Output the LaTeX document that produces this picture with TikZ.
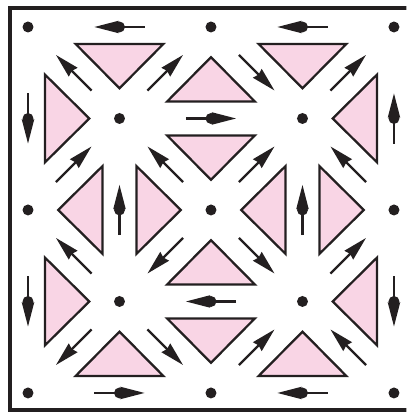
\documentclass[tikz,border=0pt]{standalone}
\usetikzlibrary{arrows.meta}
\definecolor{tripink}{RGB}{249,213,229}
\definecolor{ink}{RGB}{35,31,32}
\begin{document}
\begin{tikzpicture}[scale=2, >={Stealth[length=15pt,width=7.5pt,inset=1pt]},
    tri/.style={fill=tripink, draw=ink, line width=1.4pt},
    arr/.style={->, draw=ink, fill=ink, line width=1.4pt}]
    % Khung
    \useasboundingbox (-0.306,-0.208) rectangle (4.136,4.295);
    \clip (-0.306,-0.208) rectangle (4.136,4.295);
    \draw[ink, line width=2.5pt] (-0.2,-0.19) rectangle (4.2,4.21);
    % Các tam giác (tâm x/y, hướng)
    \foreach \x/\y/\a in {1/3/90, 1/3/180, 3/3/90, 3/3/0, 1/1/180, 1/1/270, 3/1/0, 3/1/270,
        2/2/0, 2/2/90, 2/2/180, 2/2/270, 2/4/270, 0/2/0, 4/2/180, 2/0/90}
        \draw[tri, shift={(\x,\y)}, rotate=\a] (0.33,0) -- (0.815,0.48) -- (0.815,-0.48) -- cycle;
    % Mũi tên (tâm x/y, hướng): ngang, dọc rồi chéo
    \foreach \x/\y/\a in {1/4/180, 3/4/180, 0/3/270, 0/1/270, 4/3/90, 4/1/270, 1/0/0, 3/0/180,
        2/3/0, 2/1/180, 1/2/90, 3/2/90,
        0.5/3.5/135, 1.5/3.5/45, 0.5/2.5/45, 1.5/2.5/135,
        2.5/3.5/315, 3.5/3.5/45, 2.5/2.5/45, 3.5/2.5/135,
        0.5/1.5/135, 1.5/1.5/225, 0.5/0.5/225, 1.5/0.5/315,
        2.5/1.5/315, 3.5/1.5/45, 2.5/0.5/45, 3.5/0.5/135}
        \draw[arr] ([shift={(\a+180:0.275)}]\x,\y) -- ([shift={(\a:0.275)}]\x,\y);
    % Các điểm
    \foreach \i in {0,...,4}
        \foreach \j in {0,...,4}
            \fill[ink] (\i,\j) circle (0.06);
\end{tikzpicture}
\end{document}
